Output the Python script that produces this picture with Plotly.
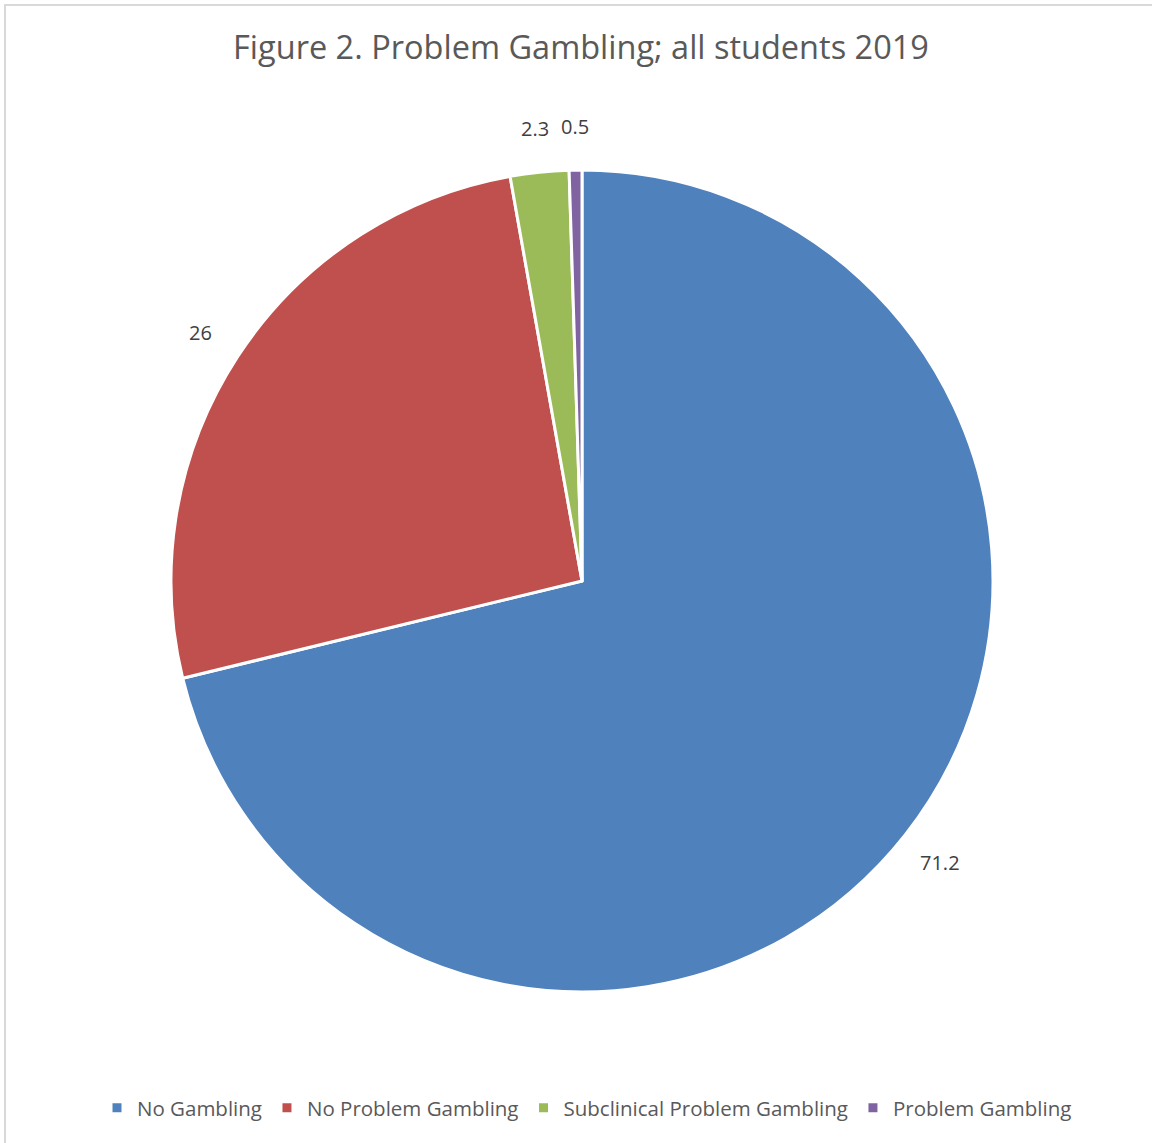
import math
import plotly.graph_objects as go

categories = ["No Gambling", "No Problem Gambling", "Subclinical Problem Gambling", "Problem Gambling"]
values = [71.2, 26, 2.3, 0.5]
value_labels = ["71.2", "26", "2.3", "0.5"]
colors = ["#4F81BD", "#C0504D", "#9BBB59", "#8064A2"]

W, H = 1152, 1143
cx, cy, r = 582, 581, 411
label_gap = 44

fig = go.Figure()
fig.add_trace(go.Pie(
    labels=categories,
    values=values,
    textinfo="none",
    sort=False,
    direction="clockwise",
    rotation=0,
    marker=dict(colors=colors, line=dict(color="white", width=3)),
    domain=dict(x=[(cx - r) / W, (cx + r) / W], y=[1 - (cy + r) / H, 1 - (cy - r) / H]),
    showlegend=True,
    hoverinfo="label+value",
))

# data labels placed outside each slice at its mid-angle (derived from the values)
total = sum(values)
annotations = []
cum = 0.0
for v, t in zip(values, value_labels):
    mid = (cum + v / 2) / total * 2 * math.pi
    cum += v
    rr = r + label_gap
    px = cx + rr * math.sin(mid)
    py = cy - rr * math.cos(mid)
    annotations.append(dict(
        x=px / W, y=1 - py / H, xref="paper", yref="paper",
        text=t, showarrow=False, xanchor="center", yanchor="middle",
        font=dict(family="Open Sans", size=20, color="#404040"),
    ))

fig.update_layout(
    width=W, height=H,
    margin=dict(l=0, r=0, t=0, b=0),
    paper_bgcolor="white",
    plot_bgcolor="white",
    title=dict(
        text="Figure 2. Problem Gambling; all students 2019",
        x=581 / W, xanchor="center",
        y=1 - 48 / H, yanchor="middle",
        font=dict(family="Open Sans", size=32.5, color="#595959"),
    ),
    legend=dict(
        orientation="h",
        x=587 / W, xanchor="center",
        y=1 - 1108 / H, yanchor="middle",
        font=dict(family="Open Sans", size=20.5, color="#595959"),
        itemwidth=30,
        traceorder="normal",
    ),
    annotations=annotations,
    shapes=[dict(
        type="rect", xref="paper", yref="paper",
        x0=5 / W, x1=1.1, y0=-0.1, y1=1 - 5 / H,
        line=dict(color="#D9D9D9", width=2),
        fillcolor="rgba(0,0,0,0)",
        layer="below",
    )],
)

fig.write_html("out.html")
